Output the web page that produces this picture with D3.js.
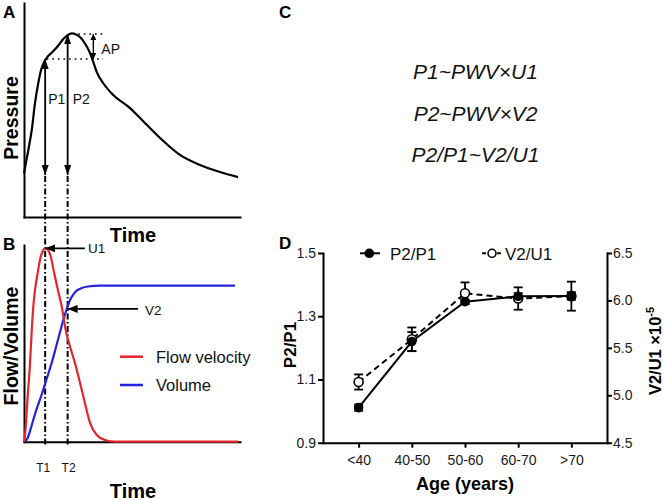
<!DOCTYPE html>
<html><head><meta charset="utf-8">
<script src="https://cdn.jsdelivr.net/npm/d3@7"></script>
<style>
html,body{margin:0;padding:0;background:#fff;}
svg{display:block;font-family:"Liberation Sans",Arial,Helvetica,sans-serif;}
</style></head><body>
<svg id="fig" width="666" height="500"></svg>
<script>
// ---------- Panel A: schematic pressure waveform (arbitrary units 0-100) ----------
const pressureTime  = [0, 2.0, 3.6, 5.1, 6.6, 7.9, 9.3, 10.6, 13.4, 15.7, 18.2, 20.2, 22.1, 24.1, 25.9, 27.5, 29.2, 30.6, 32.1, 33.6, 36.7, 41.3, 49.1, 53.7, 63.0, 72.2, 81.5, 90.7, 99.1];
const pressureValue = [20.4, 31.3, 40.7, 53.3, 62.5, 68.7, 72.4, 74.5, 77.3, 79.9, 83.2, 85.0, 85.8, 85.3, 84.1, 82.2, 79.4, 76.5, 72.4, 67.9, 62.5, 57.0, 50.9, 46.3, 36.9, 29.0, 24.3, 21.0, 18.6];
const peakLabels = ["P1", "P2"];
const peakPressure = [73.8, 85.5];
const baselinePressure = 19.6;
const apDottedStart = [10.5, 25.1];   // P1 level, P2 level
const apDottedEnd = 36.6;
const apArrowTime = 32.1;

// ---------- Panel B: schematic flow velocity and volume ----------
const timeMarkers = ["T1", "T2"];
const timeMarkerValues = [9.8, 20.2];
const flowTime  = [0, 0.46, 0.93, 1.7, 2.8, 3.6, 4.3, 5.1, 6.3, 7.6, 8.8, 9.7, 10.9, 12.3, 14.0, 15.7, 17.5, 19.3, 21.3, 23.6, 27.5, 30.6, 33.7, 37.5, 42.1, 99.1];
const flowValue = [0, 2.9, 9.5, 22.9, 40.0, 56.8, 68.6, 77.1, 85.6, 93.4, 97.2, 98.3, 97.7, 94.4, 85.6, 77.1, 68.6, 56.8, 48.4, 40.0, 22.9, 9.5, 3.4, 0.9, 0, 0];
const volumeTime  = [0.5, 1.9, 3.6, 5.6, 8.2, 10.5, 12.8, 14.8, 16.7, 18.2, 19.8, 21.3, 22.8, 24.5, 26.7, 29.6, 35.2, 97.7];
const volumeValue = [0, 2.4, 8.5, 15.8, 24.0, 32.0, 40.0, 48.0, 55.8, 62.0, 67.5, 72.0, 74.8, 76.9, 78.1, 78.9, 79.3, 79.3];
const arrowLabels = ["U1", "V2"];
const arrowTime = [9.8, 20.2];
const arrowValue = [98.3, 67.5];
const arrowTailTime = [28.2, 52.8];
const seriesNamesB = ["Flow velocity", "Volume"];
const seriesColorsB = ["#e3262b", "#2323dc"];

// ---------- Panel C ----------
const equations = ["P1~PWV×U1", "P2~PWV×V2", "P2/P1~V2/U1"];

// ---------- Panel D ----------
const ageGroups = ["<40", "40-50", "50-60", "60-70", ">70"];
const p2p1Mean = [1.011, 1.220, 1.346, 1.363, 1.364];
const p2p1Err  = [0.010, 0.030, 0.006, 0.010, 0.012];
const v2u1Mean = [5.14, 5.59, 6.075, 6.02, 6.045];
const v2u1Err  = [0.08, 0.125, 0.115, 0.118, 0.153];
const leftTicks = [0.9, 1.1, 1.3, 1.5];
const rightTicks = [4.5, 5.0, 5.5, 6.0, 6.5];
const legendD = ["P2/P1", "V2/U1"];

const svg = d3.select("#fig");
const defs = svg.append("defs");
function marker(id, len, wid, color) {
  defs.append("marker").attr("id", id).attr("viewBox", "0 0 10 10")
    .attr("refX", 10).attr("refY", 5).attr("markerUnits", "userSpaceOnUse")
    .attr("markerWidth", len).attr("markerHeight", wid)
    .attr("preserveAspectRatio", "none")
    .attr("orient", "auto-start-reverse")
    .append("path").attr("d", "M0,0L10,5L0,10Z").attr("fill", color);
}
marker("arrBig", 10, 7, "#000");
marker("arrSmall", 6, 6, "#000");
marker("arrH", 10, 8, "#000");

function styleAxis(g, w) {
  g.select(".domain").attr("stroke", "#000").attr("stroke-width", w).attr("stroke-linecap", "square");
  g.selectAll(".tick line").attr("stroke", "#000").attr("stroke-width", w);
}

// ================= Panel A =================
const xA = d3.scaleLinear([0, 100], [24, 240]);
const yA = d3.scaleLinear([0, 100], [217, 3]);
const gA = svg.append("g");
gA.append("g").attr("transform", `translate(${xA(0)},0)`)
  .call(d3.axisLeft(yA).tickValues([]).tickSizeOuter(0)).call(g => styleAxis(g, 2));
gA.append("g").attr("transform", `translate(0,${yA(0)})`)
  .call(d3.axisBottom(xA).tickValues([]).tickSizeOuter(0)).call(g => styleAxis(g, 2));

const pressure = pressureTime.map((t, i) => ({ t, v: pressureValue[i] }));
gA.append("path").datum(pressure)
  .attr("d", d3.line().x(d => xA(d.t)).y(d => yA(d.v)).curve(d3.curveMonotoneX))
  .attr("fill", "none").attr("stroke", "#000").attr("stroke-width", 2.2);

// P1/P2 double arrows
timeMarkerValues.forEach((t, i) => {
  gA.append("line")
    .attr("x1", xA(t)).attr("x2", xA(t))
    .attr("y1", yA(baselinePressure)).attr("y2", yA(peakPressure[i]))
    .attr("stroke", "#000").attr("stroke-width", 1.8)
    .attr("marker-start", "url(#arrBig)").attr("marker-end", "url(#arrBig)");
  gA.append("text").attr("x", xA(t) + (i === 0 ? 3 : 5)).attr("y", 104)
    .attr("font-size", 14).attr("fill", "#111").text(peakLabels[i]);
});
// dotted reference lines
[peakPressure[0], peakPressure[1]].forEach((p, i) => {
  gA.append("line").attr("x1", xA(apDottedStart[i])).attr("x2", xA(apDottedEnd))
    .attr("y1", yA(p)).attr("y2", yA(p))
    .attr("stroke", "#000").attr("stroke-width", 1.6).attr("stroke-dasharray", "1.6,4");
});
gA.append("line").attr("x1", xA(apArrowTime)).attr("x2", xA(apArrowTime))
  .attr("y1", yA(peakPressure[1])).attr("y2", yA(peakPressure[0]))
  .attr("stroke", "#000").attr("stroke-width", 1.4)
  .attr("marker-start", "url(#arrSmall)").attr("marker-end", "url(#arrSmall)");
gA.append("text").attr("x", xA(apArrowTime) + 8).attr("y", 53.5)
  .attr("font-size", 14).attr("fill", "#111").text("AP");

svg.append("text").attr("x", 3).attr("y", 18).attr("font-size", 17).attr("font-weight", "bold").text("A");
svg.append("text").attr("transform", "translate(18,118) rotate(-90)").attr("text-anchor", "middle")
  .attr("font-size", 19.5).attr("font-weight", "bold").text("Pressure");
svg.append("text").attr("x", 133).attr("y", 241.5).attr("text-anchor", "middle")
  .attr("font-size", 20).attr("font-weight", "bold").text("Time");

// ================= Panel B =================
const xB = d3.scaleLinear([0, 100], [24, 240]);
const yB = d3.scaleLinear([0, 100], [441.7, 245]);
const gB = svg.append("g");

// dash-dot vertical time markers spanning A and B
timeMarkerValues.forEach((t, i) => {
  gB.append("line").attr("x1", xA(t)).attr("x2", xA(t))
    .attr("y1", yA(baselinePressure) + 1).attr("y2", yB(0) + 4)
    .attr("stroke", "#000").attr("stroke-width", 2)
    .attr("stroke-dasharray", "6,2.5,1.5,2.5");
  gB.append("text").attr("x", xB(t) + (i === 0 ? -2 : 1)).attr("y", 472)
    .attr("text-anchor", "middle").attr("font-size", 12).attr("fill", "#111").text(timeMarkers[i]);
});

gB.append("g").attr("transform", `translate(${xB(0)},0)`)
  .call(d3.axisLeft(yB).tickValues([]).tickSizeOuter(0)).call(g => styleAxis(g, 2));
gB.append("g").attr("transform", `translate(0,${yB(0)})`)
  .call(d3.axisBottom(xB).tickValues([]).tickSizeOuter(0)).call(g => styleAxis(g, 2));

const flow = flowTime.map((t, i) => ({ t, v: flowValue[i] }));
const volume = volumeTime.map((t, i) => ({ t, v: volumeValue[i] }));
const lineB = d3.line().x(d => xB(d.t)).y(d => yB(d.v)).curve(d3.curveMonotoneX);
gB.append("path").datum(volume).attr("d", lineB).attr("fill", "none")
  .attr("stroke", seriesColorsB[1]).attr("stroke-width", 2.2);
gB.append("path").datum(flow).attr("d", lineB).attr("fill", "none")
  .attr("stroke", seriesColorsB[0]).attr("stroke-width", 2.2);

arrowLabels.forEach((lab, i) => {
  gB.append("line").attr("x1", xB(arrowTailTime[i])).attr("x2", xB(arrowTime[i]))
    .attr("y1", yB(arrowValue[i])).attr("y2", yB(arrowValue[i]))
    .attr("stroke", "#000").attr("stroke-width", 1.8).attr("marker-end", "url(#arrH)");
  gB.append("text").attr("x", xB(arrowTailTime[i]) + (i === 0 ? 3 : 7))
    .attr("y", yB(arrowValue[i]) + (i === 0 ? 5 : 6.5))
    .attr("font-size", 13.5).attr("fill", "#111").text(lab);
});

seriesNamesB.forEach((n, i) => {
  const y = 356.7 + i * 28.3;
  gB.append("line").attr("x1", 120).attr("x2", 143).attr("y1", y).attr("y2", y)
    .attr("stroke", seriesColorsB[i]).attr("stroke-width", 2.5);
  gB.append("text").attr("x", 156).attr("y", y + 6).attr("font-size", 16.5)
    .attr("fill", "#111").text(n);
});

svg.append("text").attr("x", 3).attr("y", 250).attr("font-size", 17).attr("font-weight", "bold").text("B");
svg.append("text").attr("transform", "translate(18,346) rotate(-90)").attr("text-anchor", "middle")
  .attr("font-size", 19.5).attr("font-weight", "bold").text("Flow/Volume");
svg.append("text").attr("x", 133).attr("y", 497.5).attr("text-anchor", "middle")
  .attr("font-size", 20).attr("font-weight", "bold").text("Time");

// ================= Panel C =================
svg.append("text").attr("x", 279).attr("y", 18).attr("font-size", 17).attr("font-weight", "bold").text("C");
const eqY = [79, 121, 162];
equations.forEach((e, i) => {
  svg.append("text").attr("x", 475.5).attr("y", eqY[i]).attr("text-anchor", "middle")
    .attr("font-size", 21).attr("font-style", "italic").attr("fill", "#111").text(e);
});

// ================= Panel D =================
const xD = d3.scalePoint(ageGroups, [323, 607]).padding(0.67);
const yL = d3.scaleLinear([0.9, 1.5], [442.7, 253]);
const yR = d3.scaleLinear([4.5, 6.5], [442.7, 253]);
const gD = svg.append("g");

function tickText(g) {
  g.selectAll(".tick text").attr("font-size", 14).attr("fill", "#1a1a1a")
    .attr("font-family", '"Liberation Sans", Arial, sans-serif');
}
gD.append("g").attr("transform", "translate(323,0)")
  .call(d3.axisLeft(yL).tickValues(leftTicks).tickSize(5).tickSizeOuter(0).tickPadding(2).tickFormat(d3.format(".1f")))
  .call(g => styleAxis(g, 2)).call(tickText);
gD.append("g").attr("transform", "translate(607,0)")
  .call(d3.axisRight(yR).tickValues(rightTicks).tickSize(5).tickSizeOuter(0).tickPadding(1).tickFormat(d3.format(".1f")))
  .call(g => styleAxis(g, 2)).call(tickText);
gD.append("g").attr("transform", `translate(0,${yL(0.9)})`)
  .call(d3.axisBottom(xD).tickSize(5).tickSizeOuter(0).tickPadding(7))
  .call(g => styleAxis(g, 2)).call(tickText);

const v2 = ageGroups.map((a, i) => ({ a, m: v2u1Mean[i], e: v2u1Err[i] }));
const p2 = ageGroups.map((a, i) => ({ a, m: p2p1Mean[i], e: p2p1Err[i] }));

function errBars(data, ys) {
  data.forEach(d => {
    const x = xD(d.a);
    gD.append("line").attr("x1", x).attr("x2", x).attr("y1", ys(d.m - d.e)).attr("y2", ys(d.m + d.e))
      .attr("stroke", "#000").attr("stroke-width", 1.8);
    [d.m - d.e, d.m + d.e].forEach(v => {
      gD.append("line").attr("x1", x - 4.5).attr("x2", x + 4.5).attr("y1", ys(v)).attr("y2", ys(v))
        .attr("stroke", "#000").attr("stroke-width", 1.8);
    });
  });
}
errBars(v2, yR);
errBars(p2, yL);

gD.append("path").datum(v2)
  .attr("d", d3.line().x(d => xD(d.a)).y(d => yR(d.m)))
  .attr("fill", "none").attr("stroke", "#000").attr("stroke-width", 2).attr("stroke-dasharray", "6,4");
gD.append("path").datum(p2)
  .attr("d", d3.line().x(d => xD(d.a)).y(d => yL(d.m)))
  .attr("fill", "none").attr("stroke", "#000").attr("stroke-width", 2);

gD.selectAll("circle.open").data(v2).join("circle").attr("class", "open")
  .attr("cx", d => xD(d.a)).attr("cy", d => yR(d.m)).attr("r", 4.5)
  .attr("fill", "#fff").attr("stroke", "#000").attr("stroke-width", 1.6);
gD.selectAll("circle.filled").data(p2).join("circle").attr("class", "filled")
  .attr("cx", d => xD(d.a)).attr("cy", d => yL(d.m)).attr("r", 4.8).attr("fill", "#000");

// legend D
gD.append("line").attr("x1", 360).attr("x2", 380).attr("y1", 253.3).attr("y2", 253.3)
  .attr("stroke", "#000").attr("stroke-width", 2);
gD.append("circle").attr("cx", 369.3).attr("cy", 253.3).attr("r", 4.8).attr("fill", "#000");
gD.append("text").attr("x", 390).attr("y", 259.8).attr("font-size", 17).attr("fill", "#111").text(legendD[0]);
gD.append("line").attr("x1", 482).attr("x2", 501).attr("y1", 253.3).attr("y2", 253.3)
  .attr("stroke", "#000").attr("stroke-width", 2).attr("stroke-dasharray", "4,3.5");
gD.append("circle").attr("cx", 492).attr("cy", 253.3).attr("r", 4).attr("fill", "#fff")
  .attr("stroke", "#000").attr("stroke-width", 1.5);
gD.append("text").attr("x", 505).attr("y", 259.8).attr("font-size", 17).attr("fill", "#111").text(legendD[1]);

svg.append("text").attr("x", 279).attr("y", 249).attr("font-size", 17).attr("font-weight", "bold").text("D");
svg.append("text").attr("transform", "translate(296,345) rotate(-90)").attr("text-anchor", "middle")
  .attr("font-size", 17).attr("font-weight", "bold").text("P2/P1");
const rl = svg.append("text").attr("transform", "translate(661,351) rotate(-90)").attr("text-anchor", "middle")
  .attr("font-size", 16.5).attr("font-weight", "bold");
rl.append("tspan").text("V2/U1 ×10");
rl.append("tspan").attr("font-size", 11).attr("dy", -7).text("-5");
svg.append("text").attr("x", 465).attr("y", 490).attr("text-anchor", "middle")
  .attr("font-size", 18).attr("font-weight", "bold").text("Age (years)");
</script>
</body></html>
